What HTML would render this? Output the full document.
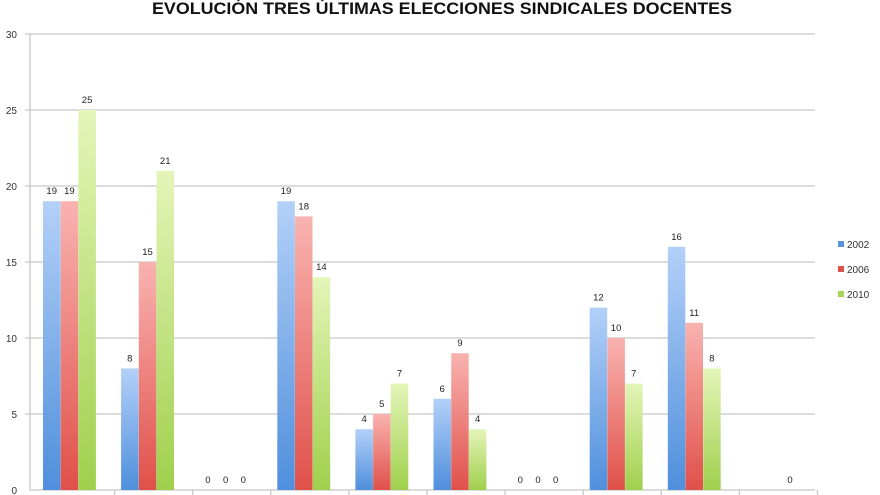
<!DOCTYPE html>
<html><head><meta charset="utf-8"><style>
html,body{margin:0;padding:0;background:#fff;width:880px;height:495px;overflow:hidden}
svg{display:block}
text{font-family:"Liberation Sans",sans-serif}
</style></head><body>
<svg width="880" height="495" viewBox="0 0 880 495" xmlns="http://www.w3.org/2000/svg">
<defs>
<linearGradient id="gb" x1="0" y1="0" x2="0" y2="1"><stop offset="0" stop-color="#b3d0f8"/><stop offset="1" stop-color="#4f8fdc"/></linearGradient>
<linearGradient id="gr" x1="0" y1="0" x2="0" y2="1"><stop offset="0" stop-color="#f9b3b0"/><stop offset="1" stop-color="#e0504a"/></linearGradient>
<linearGradient id="gg" x1="0" y1="0" x2="0" y2="1"><stop offset="0" stop-color="#e4f5b8"/><stop offset="1" stop-color="#9fd04c"/></linearGradient>
</defs>
<text x="442" y="14" text-anchor="middle" font-size="17" font-weight="bold" fill="#111" textLength="580" lengthAdjust="spacingAndGlyphs">EVOLUCIÓN TRES ÚLTIMAS ELECCIONES SINDICALES DOCENTES</text>
<g stroke="#c8c8c8" stroke-width="1.3">
<line x1="30" y1="34" x2="815" y2="34"/><line x1="30" y1="110" x2="815" y2="110"/><line x1="30" y1="186" x2="815" y2="186"/><line x1="30" y1="262" x2="815" y2="262"/><line x1="30" y1="338" x2="815" y2="338"/><line x1="30" y1="414" x2="815" y2="414"/>
<line x1="30" y1="34" x2="30" y2="490"/><line x1="30" y1="490" x2="815" y2="490"/>
<line x1="25" y1="34" x2="30" y2="34"/><line x1="25" y1="110" x2="30" y2="110"/><line x1="25" y1="186" x2="30" y2="186"/><line x1="25" y1="262" x2="30" y2="262"/><line x1="25" y1="338" x2="30" y2="338"/><line x1="25" y1="414" x2="30" y2="414"/>
</g>
<g id="ticks" stroke="#c8c8c8" stroke-width="1.3"></g>
<g font-size="10" fill="#333" text-anchor="end">
<text x="17" y="38">30</text><text x="17" y="114">25</text><text x="17" y="190">20</text><text x="17" y="266">15</text><text x="17" y="342">10</text><text x="17" y="418">5</text><text x="17" y="494">0</text>
</g>
<g id="bars" font-size="9.5" fill="#222" text-anchor="middle"></g>
<g font-size="10" fill="#333">
<rect x="838" y="241" width="6" height="6" fill="#5b95dc"/><text x="847" y="248">2002</text>
<rect x="838" y="266" width="6" height="6" fill="#e0504a"/><text x="847" y="273">2006</text>
<rect x="838" y="291" width="6" height="6" fill="#a8d45c"/><text x="847" y="298">2010</text>
</g>
</svg>
<script>
var d=[[19,19,25],[8,15,21],[0,0,0],[19,18,14],[4,5,7],[6,9,4],[0,0,0],[12,10,7],[16,11,8],[null,null,0]];
var g=document.getElementById('bars'),fills=['url(#gb)','url(#gr)','url(#gg)'];
var h='',t='';
for(var k=1;k<=10;k++){var xx=37+k*78.1-0.5;t+='<line x1="'+xx+'" y1="490" x2="'+xx+'" y2="495"/>';}
document.getElementById('ticks').innerHTML=t;
d.forEach(function(r,i){var x0=37+i*78.1+6;r.forEach(function(v,j){if(v===null)return;var x=x0+j*17.7,y=490-v*15.2;
if(v>0)h+='<rect x="'+x+'" y="'+y+'" width="17.5" height="'+(490-y)+'" fill="'+fills[j]+'"/>';
h+='<text x="'+(x+8.7)+'" y="'+(y-7)+'">'+v+'</text>';});});
g.innerHTML=h;
</script>
</body></html>
